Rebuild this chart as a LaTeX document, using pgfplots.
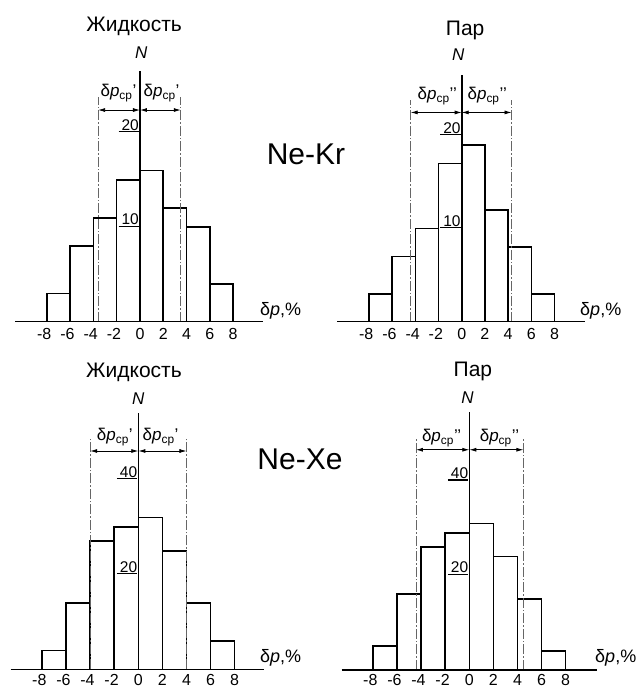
\documentclass[border=0pt]{standalone}
\usepackage{fontspec}
\setmainfont{Liberation Sans}
\usepackage{pgfplots}
\pgfplotsset{compat=1.18}
\usetikzlibrary{arrows.meta}

\newcommand\tl[1]{\setbox0\hbox{#1}\rlap{\kern-3bp\rule[-2.2bp]{\dimexpr\wd0+3bp\relax}{1.4bp}}\box0}
\newcommand\pr{\char"27\relax}
\newcommand\dpl{δ\textit{p}\textsubscript{ср}}

\tikzset{
 dashln/.style={black!60, line width=0.7bp, dash pattern=on 10bp off 2bp on 1.5bp off 2bp},
 dimln/.style={line width=0.8bp, {Latex[length=7bp,width=4bp]}-{Latex[length=7bp,width=4bp]}},
 ttl/.style={font=\fontsize{21bp}{24bp}\selectfont, anchor=base, inner sep=0pt},
 nlab/.style={font=\fontsize{17bp}{19bp}\selectfont\itshape, anchor=base, inner sep=0pt},
 dlab/.style={font=\fontsize{17bp}{20bp}\selectfont, anchor=base, inner sep=0pt},
 xlab/.style={font=\fontsize{18bp}{20bp}\selectfont, anchor=base west, inner sep=0pt},
}
\pgfplotsset{
 hist/.style={
  anchor=south west,
  axis lines=middle,
  axis line style={-, line width=1.6bp},
  enlargelimits=false,
  clip=false,
  axis on top,
  major tick length=0pt,
  hide obscured x ticks=false,
  hide obscured y ticks=false,
  xtick={-8,-6,-4,-2,0,2,4,6,8},
  xticklabels={\llap{-}8,\llap{-}6,\llap{-}4,\llap{-}2,0,2,4,6,8},
  xticklabel style={font=\fontsize{16bp}{18bp}\selectfont, anchor=north, inner sep=0pt,
    text height=11.6bp, text depth=0bp, yshift=-6bp},
  yticklabel style={font=\fontsize{15.5bp}{18bp}\selectfont, anchor=south east, inner sep=0pt, xshift=-1bp},
 },
 lowrow/.style={xticklabel style={yshift=1.8bp}},
 bars/.style={ybar, bar width=2, bar shift=0pt, fill=white, draw=black, line width=1.6bp},
}

\begin{document}
\begin{tikzpicture}
\path[use as bounding box] (0,0) rectangle (643bp,690bp);

% ---------- Ne-Kr, liquid ----------
\begin{axis}[hist, at={(15.34bp,368.3bp)}, x=11.65bp, y=9.45bp,
  xmin=-10.7, xmax=10.6, ymin=0, ymax=26.5,
  ytick={10,20}, yticklabels={\tl{10},\tl{20}}]
\addplot[bars] coordinates {(-7,3) (-5,8) (-3,11) (-1,15) (1,16) (3,12) (5,10) (7,4)};
\draw[dashln] (axis cs:-3.6,0) -- (axis cs:-3.6,23.8);
\draw[dashln] (axis cs:3.5,0) -- (axis cs:3.5,23.8);
\draw[dimln] (axis cs:-3.6,22.4) -- (axis cs:0,22.4);
\draw[dimln] (axis cs:0,22.4) -- (axis cs:3.5,22.4);
\node[dlab] at (axis cs:-1.85,23.8) {\dpl\pr};
\node[dlab] at (axis cs:1.85,23.8) {\dpl\pr};
\node[ttl] at (axis cs:-0.5,30.7) {Жидкость};
\node[nlab] at (axis cs:0.1,27.9) {N};
\node[xlab] at (axis cs:10.3,0.7) {δ\textit{p},\%};
\end{axis}

% ---------- Ne-Kr, vapour ----------
\begin{axis}[hist, at={(337bp,368.3bp)}, x=11.6bp, y=9.3bp,
  xmin=-10.75, xmax=10.63, ymin=0, ymax=26.5,
  ytick={10,20}, yticklabels={\tl{10},\tl{20}}]
\addplot[bars] coordinates {(-7,3) (-5,7) (-3,10) (-1,17) (1,19) (3,12) (5,8) (7,3)};
\draw[dashln] (axis cs:-4.4,0) -- (axis cs:-4.4,23.8);
\draw[dashln] (axis cs:4.3,0) -- (axis cs:4.3,23.8);
\draw[dimln] (axis cs:-4.4,22.5) -- (axis cs:0,22.5);
\draw[dimln] (axis cs:0,22.5) -- (axis cs:4.3,22.5);
\node[dlab] at (axis cs:-2.1,23.9) {\dpl\pr\pr};
\node[dlab] at (axis cs:2.2,23.9) {\dpl\pr\pr};
\node[ttl] at (axis cs:0.3,30.8) {Пар};
\node[nlab] at (axis cs:-0.3,28.1) {N};
\node[xlab] at (axis cs:10.2,0.7) {δ\textit{p},\%};
\end{axis}

% ---------- Ne-Xe, liquid ----------
\begin{axis}[hist, lowrow, at={(10.7bp,20.5bp)}, x=12.04bp, y=4.75bp,
  xmin=-10.6, xmax=10.4, ymin=0, ymax=54,
  ytick={20,40}, yticklabels={\tl{20},\tl{40}}]
\addplot[bars] coordinates {(-7,4) (-5,14) (-3,27) (-1,30) (1,32) (3,25) (5,14) (7,6)};
\draw[dashln] (axis cs:-4,0) -- (axis cs:-4,48.6);
\draw[dashln] (axis cs:4,0) -- (axis cs:4,48.6);
\draw[dimln] (axis cs:-4,46.0) -- (axis cs:0,46.0);
\draw[dimln] (axis cs:0,46.0) -- (axis cs:4,46.0);
\node[dlab] at (axis cs:-1.95,48.2) {\dpl\pr};
\node[dlab] at (axis cs:1.85,48.2) {\dpl\pr};
\node[ttl] at (axis cs:-0.36,61.5) {Жидкость};
\node[nlab] at (axis cs:0,55.8) {N};
\node[xlab] at (axis cs:10.1,1.5) {δ\textit{p},\%};
\end{axis}

% ---------- Ne-Xe, vapour ----------
\begin{axis}[hist, lowrow, at={(341.7bp,20.3bp)}, x=12.04bp, y=4.72bp,
  xmin=-10.6, xmax=10.6, ymin=0, ymax=54.5,
  ytick={20,40}, yticklabels={\tl{20},\tl{40}}]
\addplot[bars] coordinates {(-7,5) (-5,16) (-3,26) (-1,29) (1,31) (3,24) (5,15) (7,4)};
\draw[dashln] (axis cs:-4.43,0) -- (axis cs:-4.43,48.8);
\draw[dashln] (axis cs:4.49,0) -- (axis cs:4.49,48.8);
\draw[dimln] (axis cs:-4.43,46.6) -- (axis cs:0,46.6);
\draw[dimln] (axis cs:0,46.6) -- (axis cs:4.49,46.6);
\node[dlab] at (axis cs:-2.3,48.3) {\dpl\pr\pr};
\node[dlab] at (axis cs:2.5,48.3) {\dpl\pr\pr};
\node[ttl] at (axis cs:0.3,62.2) {Пар};
\node[nlab] at (axis cs:-0.15,56.3) {N};
\node[xlab] at (axis cs:10.44,1.6) {δ\textit{p},\%};
\end{axis}

\node[font=\fontsize{30bp}{34bp}\selectfont, anchor=base, inner sep=0pt] at (306bp,525bp) {Ne-Kr};
\node[font=\fontsize{30bp}{34bp}\selectfont, anchor=base, inner sep=0pt] at (300bp,220bp) {Ne-Xe};
\end{tikzpicture}
\end{document}
